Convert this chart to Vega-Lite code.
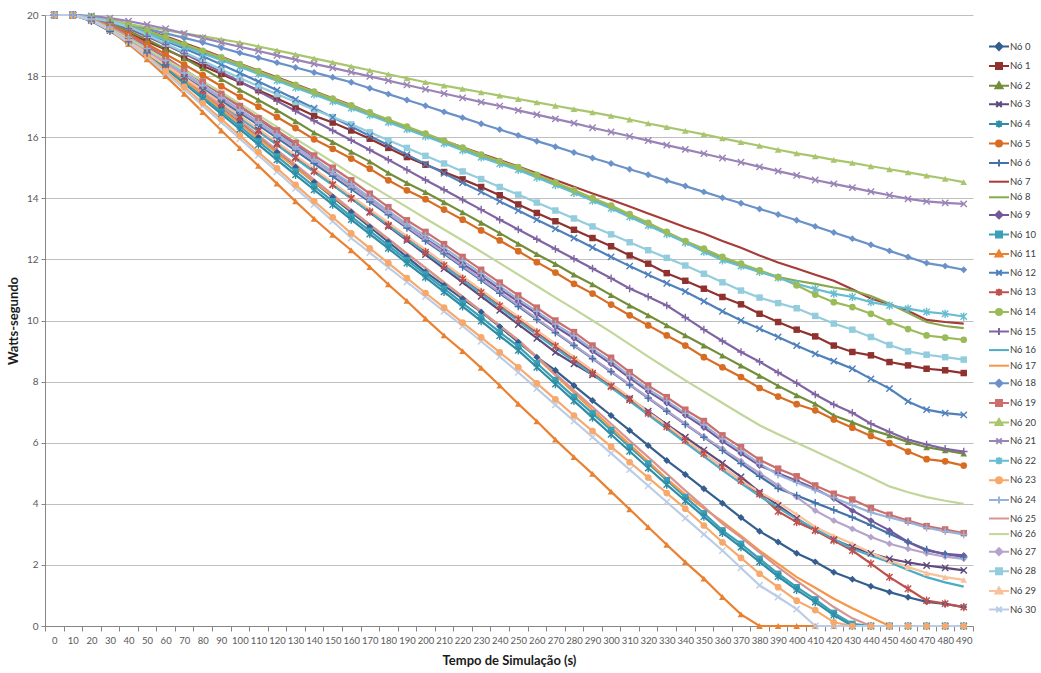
{
"$schema":"https://vega.github.io/schema/vega-lite/v6.json",
"width":928,"height":611,
"autosize":{"type":"none"},
"padding":{"left":45,"top":15,"right":68,"bottom":47},
"background":"white",
"config":{"view":{"stroke":null},"font":"Lato"},
"data":{"values":[
{"n":0,"t":0,"v":20},{"n":0,"t":10,"v":20},{"n":0,"t":20,"v":19.85},{"n":0,"t":30,"v":19.55},{"n":0,"t":40,"v":19.17},{"n":0,"t":50,"v":18.76},{"n":0,"t":60,"v":18.33},{"n":0,"t":70,"v":17.88},{"n":0,"t":80,"v":17.42},{"n":0,"t":90,"v":16.95},{"n":0,"t":100,"v":16.48},{"n":0,"t":110,"v":16.0},{"n":0,"t":120,"v":15.51},{"n":0,"t":130,"v":15.02},{"n":0,"t":140,"v":14.53},{"n":0,"t":150,"v":14.04},{"n":0,"t":160,"v":13.55},{"n":0,"t":170,"v":13.06},{"n":0,"t":180,"v":12.57},{"n":0,"t":190,"v":12.08},{"n":0,"t":200,"v":11.59},{"n":0,"t":210,"v":11.15},{"n":0,"t":220,"v":10.71},{"n":0,"t":230,"v":10.28},{"n":0,"t":240,"v":9.8},{"n":0,"t":250,"v":9.29},{"n":0,"t":260,"v":8.8},{"n":0,"t":270,"v":8.37},{"n":0,"t":280,"v":7.87},{"n":0,"t":290,"v":7.38},{"n":0,"t":300,"v":6.89},{"n":0,"t":310,"v":6.4},{"n":0,"t":320,"v":5.91},{"n":0,"t":330,"v":5.42},{"n":0,"t":340,"v":4.96},{"n":0,"t":350,"v":4.49},{"n":0,"t":360,"v":4.02},{"n":0,"t":370,"v":3.55},{"n":0,"t":380,"v":3.1},{"n":0,"t":390,"v":2.75},{"n":0,"t":400,"v":2.38},{"n":0,"t":410,"v":2.1},{"n":0,"t":420,"v":1.76},{"n":0,"t":430,"v":1.53},{"n":0,"t":440,"v":1.3},{"n":0,"t":450,"v":1.11},{"n":0,"t":460,"v":0.94},{"n":0,"t":470,"v":0.79},{"n":0,"t":480,"v":0.72},{"n":0,"t":490,"v":0.62},
{"n":1,"t":0,"v":20},{"n":1,"t":10,"v":20},{"n":1,"t":20,"v":19.87},{"n":1,"t":30,"v":19.65},{"n":1,"t":40,"v":19.4},{"n":1,"t":50,"v":19.13},{"n":1,"t":60,"v":18.87},{"n":1,"t":70,"v":18.6},{"n":1,"t":80,"v":18.34},{"n":1,"t":90,"v":18.07},{"n":1,"t":100,"v":17.8},{"n":1,"t":110,"v":17.54},{"n":1,"t":120,"v":17.27},{"n":1,"t":130,"v":16.99},{"n":1,"t":140,"v":16.7},{"n":1,"t":150,"v":16.48},{"n":1,"t":160,"v":16.22},{"n":1,"t":170,"v":15.95},{"n":1,"t":180,"v":15.65},{"n":1,"t":190,"v":15.35},{"n":1,"t":200,"v":15.1},{"n":1,"t":210,"v":14.86},{"n":1,"t":220,"v":14.62},{"n":1,"t":230,"v":14.37},{"n":1,"t":240,"v":14.1},{"n":1,"t":250,"v":13.8},{"n":1,"t":260,"v":13.52},{"n":1,"t":270,"v":13.25},{"n":1,"t":280,"v":12.97},{"n":1,"t":290,"v":12.7},{"n":1,"t":300,"v":12.43},{"n":1,"t":310,"v":12.13},{"n":1,"t":320,"v":11.86},{"n":1,"t":330,"v":11.55},{"n":1,"t":340,"v":11.3},{"n":1,"t":350,"v":11.04},{"n":1,"t":360,"v":10.77},{"n":1,"t":370,"v":10.53},{"n":1,"t":380,"v":10.22},{"n":1,"t":390,"v":9.95},{"n":1,"t":400,"v":9.7},{"n":1,"t":410,"v":9.48},{"n":1,"t":420,"v":9.18},{"n":1,"t":430,"v":8.97},{"n":1,"t":440,"v":8.86},{"n":1,"t":450,"v":8.64},{"n":1,"t":460,"v":8.53},{"n":1,"t":470,"v":8.42},{"n":1,"t":480,"v":8.37},{"n":1,"t":490,"v":8.28},
{"n":2,"t":0,"v":20},{"n":2,"t":10,"v":20},{"n":2,"t":20,"v":19.92},{"n":2,"t":30,"v":19.74},{"n":2,"t":40,"v":19.48},{"n":2,"t":50,"v":19.2},{"n":2,"t":60,"v":18.9},{"n":2,"t":70,"v":18.58},{"n":2,"t":80,"v":18.25},{"n":2,"t":90,"v":17.9},{"n":2,"t":100,"v":17.55},{"n":2,"t":110,"v":17.22},{"n":2,"t":120,"v":16.88},{"n":2,"t":130,"v":16.52},{"n":2,"t":140,"v":16.15},{"n":2,"t":150,"v":15.84},{"n":2,"t":160,"v":15.52},{"n":2,"t":170,"v":15.2},{"n":2,"t":180,"v":14.83},{"n":2,"t":190,"v":14.5},{"n":2,"t":200,"v":14.2},{"n":2,"t":210,"v":13.87},{"n":2,"t":220,"v":13.54},{"n":2,"t":230,"v":13.2},{"n":2,"t":240,"v":12.86},{"n":2,"t":250,"v":12.51},{"n":2,"t":260,"v":12.17},{"n":2,"t":270,"v":11.85},{"n":2,"t":280,"v":11.5},{"n":2,"t":290,"v":11.18},{"n":2,"t":300,"v":10.83},{"n":2,"t":310,"v":10.49},{"n":2,"t":320,"v":10.17},{"n":2,"t":330,"v":9.84},{"n":2,"t":340,"v":9.51},{"n":2,"t":350,"v":9.18},{"n":2,"t":360,"v":8.85},{"n":2,"t":370,"v":8.52},{"n":2,"t":380,"v":8.19},{"n":2,"t":390,"v":7.86},{"n":2,"t":400,"v":7.55},{"n":2,"t":410,"v":7.27},{"n":2,"t":420,"v":6.89},{"n":2,"t":430,"v":6.67},{"n":2,"t":440,"v":6.42},{"n":2,"t":450,"v":6.24},{"n":2,"t":460,"v":6.02},{"n":2,"t":470,"v":5.85},{"n":2,"t":480,"v":5.75},{"n":2,"t":490,"v":5.64},
{"n":3,"t":0,"v":20},{"n":3,"t":10,"v":20},{"n":3,"t":20,"v":19.82},{"n":3,"t":30,"v":19.5},{"n":3,"t":40,"v":19.15},{"n":3,"t":50,"v":18.78},{"n":3,"t":60,"v":18.38},{"n":3,"t":70,"v":17.97},{"n":3,"t":80,"v":17.55},{"n":3,"t":90,"v":17.12},{"n":3,"t":100,"v":16.68},{"n":3,"t":110,"v":16.24},{"n":3,"t":120,"v":15.8},{"n":3,"t":130,"v":15.35},{"n":3,"t":140,"v":14.9},{"n":3,"t":150,"v":14.45},{"n":3,"t":160,"v":14.0},{"n":3,"t":170,"v":13.54},{"n":3,"t":180,"v":13.08},{"n":3,"t":190,"v":12.62},{"n":3,"t":200,"v":12.16},{"n":3,"t":210,"v":11.7},{"n":3,"t":220,"v":11.25},{"n":3,"t":230,"v":10.79},{"n":3,"t":240,"v":10.33},{"n":3,"t":250,"v":9.87},{"n":3,"t":260,"v":9.42},{"n":3,"t":270,"v":8.96},{"n":3,"t":280,"v":8.58},{"n":3,"t":290,"v":8.22},{"n":3,"t":300,"v":7.85},{"n":3,"t":310,"v":7.45},{"n":3,"t":320,"v":7.03},{"n":3,"t":330,"v":6.6},{"n":3,"t":340,"v":6.18},{"n":3,"t":350,"v":5.76},{"n":3,"t":360,"v":5.33},{"n":3,"t":370,"v":4.88},{"n":3,"t":380,"v":4.38},{"n":3,"t":390,"v":3.95},{"n":3,"t":400,"v":3.52},{"n":3,"t":410,"v":3.13},{"n":3,"t":420,"v":2.83},{"n":3,"t":430,"v":2.58},{"n":3,"t":440,"v":2.38},{"n":3,"t":450,"v":2.2},{"n":3,"t":460,"v":2.08},{"n":3,"t":470,"v":1.98},{"n":3,"t":480,"v":1.9},{"n":3,"t":490,"v":1.82},
{"n":4,"t":0,"v":20},{"n":4,"t":10,"v":20},{"n":4,"t":20,"v":19.84},{"n":4,"t":30,"v":19.55},{"n":4,"t":40,"v":19.17},{"n":4,"t":50,"v":18.73},{"n":4,"t":60,"v":18.25},{"n":4,"t":70,"v":17.76},{"n":4,"t":80,"v":17.26},{"n":4,"t":90,"v":16.76},{"n":4,"t":100,"v":16.26},{"n":4,"t":110,"v":15.76},{"n":4,"t":120,"v":15.26},{"n":4,"t":130,"v":14.77},{"n":4,"t":140,"v":14.28},{"n":4,"t":150,"v":13.79},{"n":4,"t":160,"v":13.3},{"n":4,"t":170,"v":12.83},{"n":4,"t":180,"v":12.36},{"n":4,"t":190,"v":11.88},{"n":4,"t":200,"v":11.41},{"n":4,"t":210,"v":10.94},{"n":4,"t":220,"v":10.46},{"n":4,"t":230,"v":9.98},{"n":4,"t":240,"v":9.5},{"n":4,"t":250,"v":9.02},{"n":4,"t":260,"v":8.47},{"n":4,"t":270,"v":7.92},{"n":4,"t":280,"v":7.37},{"n":4,"t":290,"v":6.82},{"n":4,"t":300,"v":6.27},{"n":4,"t":310,"v":5.72},{"n":4,"t":320,"v":5.17},{"n":4,"t":330,"v":4.63},{"n":4,"t":340,"v":4.1},{"n":4,"t":350,"v":3.58},{"n":4,"t":360,"v":3.05},{"n":4,"t":370,"v":2.58},{"n":4,"t":380,"v":2.1},{"n":4,"t":390,"v":1.62},{"n":4,"t":400,"v":1.18},{"n":4,"t":410,"v":0.78},{"n":4,"t":420,"v":0.36},{"n":4,"t":430,"v":0},{"n":4,"t":440,"v":0},{"n":4,"t":450,"v":0},{"n":4,"t":460,"v":0},{"n":4,"t":470,"v":0},{"n":4,"t":480,"v":0},{"n":4,"t":490,"v":0},
{"n":5,"t":0,"v":20},{"n":5,"t":10,"v":20},{"n":5,"t":20,"v":19.9},{"n":5,"t":30,"v":19.68},{"n":5,"t":40,"v":19.38},{"n":5,"t":50,"v":19.05},{"n":5,"t":60,"v":18.72},{"n":5,"t":70,"v":18.38},{"n":5,"t":80,"v":18.03},{"n":5,"t":90,"v":17.67},{"n":5,"t":100,"v":17.32},{"n":5,"t":110,"v":17.0},{"n":5,"t":120,"v":16.66},{"n":5,"t":130,"v":16.3},{"n":5,"t":140,"v":15.93},{"n":5,"t":150,"v":15.62},{"n":5,"t":160,"v":15.3},{"n":5,"t":170,"v":14.97},{"n":5,"t":180,"v":14.59},{"n":5,"t":190,"v":14.26},{"n":5,"t":200,"v":13.97},{"n":5,"t":210,"v":13.63},{"n":5,"t":220,"v":13.3},{"n":5,"t":230,"v":12.95},{"n":5,"t":240,"v":12.62},{"n":5,"t":250,"v":12.27},{"n":5,"t":260,"v":11.91},{"n":5,"t":270,"v":11.57},{"n":5,"t":280,"v":11.2},{"n":5,"t":290,"v":10.88},{"n":5,"t":300,"v":10.52},{"n":5,"t":310,"v":10.17},{"n":5,"t":320,"v":9.84},{"n":5,"t":330,"v":9.51},{"n":5,"t":340,"v":9.18},{"n":5,"t":350,"v":8.8},{"n":5,"t":360,"v":8.47},{"n":5,"t":370,"v":8.15},{"n":5,"t":380,"v":7.79},{"n":5,"t":390,"v":7.51},{"n":5,"t":400,"v":7.26},{"n":5,"t":410,"v":7.06},{"n":5,"t":420,"v":6.76},{"n":5,"t":430,"v":6.49},{"n":5,"t":440,"v":6.22},{"n":5,"t":450,"v":5.99},{"n":5,"t":460,"v":5.71},{"n":5,"t":470,"v":5.46},{"n":5,"t":480,"v":5.39},{"n":5,"t":490,"v":5.25},
{"n":6,"t":0,"v":20},{"n":6,"t":10,"v":20},{"n":6,"t":20,"v":19.8},{"n":6,"t":30,"v":19.47},{"n":6,"t":40,"v":19.12},{"n":6,"t":50,"v":18.76},{"n":6,"t":60,"v":18.38},{"n":6,"t":70,"v":17.99},{"n":6,"t":80,"v":17.6},{"n":6,"t":90,"v":17.2},{"n":6,"t":100,"v":16.8},{"n":6,"t":110,"v":16.4},{"n":6,"t":120,"v":15.98},{"n":6,"t":130,"v":15.56},{"n":6,"t":140,"v":15.14},{"n":6,"t":150,"v":14.72},{"n":6,"t":160,"v":14.3},{"n":6,"t":170,"v":13.88},{"n":6,"t":180,"v":13.46},{"n":6,"t":190,"v":13.03},{"n":6,"t":200,"v":12.6},{"n":6,"t":210,"v":12.18},{"n":6,"t":220,"v":11.75},{"n":6,"t":230,"v":11.32},{"n":6,"t":240,"v":10.89},{"n":6,"t":250,"v":10.46},{"n":6,"t":260,"v":10.03},{"n":6,"t":270,"v":9.6},{"n":6,"t":280,"v":9.18},{"n":6,"t":290,"v":8.75},{"n":6,"t":300,"v":8.32},{"n":6,"t":310,"v":7.89},{"n":6,"t":320,"v":7.46},{"n":6,"t":330,"v":7.03},{"n":6,"t":340,"v":6.6},{"n":6,"t":350,"v":6.18},{"n":6,"t":360,"v":5.75},{"n":6,"t":370,"v":5.32},{"n":6,"t":380,"v":4.9},{"n":6,"t":390,"v":4.5},{"n":6,"t":400,"v":4.27},{"n":6,"t":410,"v":4.03},{"n":6,"t":420,"v":3.8},{"n":6,"t":430,"v":3.56},{"n":6,"t":440,"v":3.3},{"n":6,"t":450,"v":3.02},{"n":6,"t":460,"v":2.75},{"n":6,"t":470,"v":2.5},{"n":6,"t":480,"v":2.35},{"n":6,"t":490,"v":2.26},
{"n":7,"t":0,"v":20},{"n":7,"t":10,"v":20},{"n":7,"t":20,"v":19.93},{"n":7,"t":30,"v":19.82},{"n":7,"t":40,"v":19.68},{"n":7,"t":50,"v":19.5},{"n":7,"t":60,"v":19.3},{"n":7,"t":70,"v":19.08},{"n":7,"t":80,"v":18.86},{"n":7,"t":90,"v":18.63},{"n":7,"t":100,"v":18.4},{"n":7,"t":110,"v":18.18},{"n":7,"t":120,"v":17.96},{"n":7,"t":130,"v":17.73},{"n":7,"t":140,"v":17.5},{"n":7,"t":150,"v":17.27},{"n":7,"t":160,"v":17.05},{"n":7,"t":170,"v":16.8},{"n":7,"t":180,"v":16.55},{"n":7,"t":190,"v":16.3},{"n":7,"t":200,"v":16.09},{"n":7,"t":210,"v":15.88},{"n":7,"t":220,"v":15.67},{"n":7,"t":230,"v":15.46},{"n":7,"t":240,"v":15.25},{"n":7,"t":250,"v":15.04},{"n":7,"t":260,"v":14.82},{"n":7,"t":270,"v":14.6},{"n":7,"t":280,"v":14.38},{"n":7,"t":290,"v":14.16},{"n":7,"t":300,"v":13.95},{"n":7,"t":310,"v":13.73},{"n":7,"t":320,"v":13.5},{"n":7,"t":330,"v":13.28},{"n":7,"t":340,"v":13.05},{"n":7,"t":350,"v":12.85},{"n":7,"t":360,"v":12.6},{"n":7,"t":370,"v":12.38},{"n":7,"t":380,"v":12.13},{"n":7,"t":390,"v":11.9},{"n":7,"t":400,"v":11.7},{"n":7,"t":410,"v":11.5},{"n":7,"t":420,"v":11.3},{"n":7,"t":430,"v":11.02},{"n":7,"t":440,"v":10.72},{"n":7,"t":450,"v":10.53},{"n":7,"t":460,"v":10.32},{"n":7,"t":470,"v":10.02},{"n":7,"t":480,"v":9.95},{"n":7,"t":490,"v":9.9},
{"n":8,"t":0,"v":20},{"n":8,"t":10,"v":20},{"n":8,"t":20,"v":19.93},{"n":8,"t":30,"v":19.8},{"n":8,"t":40,"v":19.65},{"n":8,"t":50,"v":19.45},{"n":8,"t":60,"v":19.23},{"n":8,"t":70,"v":19.01},{"n":8,"t":80,"v":18.79},{"n":8,"t":90,"v":18.57},{"n":8,"t":100,"v":18.35},{"n":8,"t":110,"v":18.12},{"n":8,"t":120,"v":17.9},{"n":8,"t":130,"v":17.67},{"n":8,"t":140,"v":17.45},{"n":8,"t":150,"v":17.22},{"n":8,"t":160,"v":17.0},{"n":8,"t":170,"v":16.77},{"n":8,"t":180,"v":16.54},{"n":8,"t":190,"v":16.31},{"n":8,"t":200,"v":16.08},{"n":8,"t":210,"v":15.85},{"n":8,"t":220,"v":15.62},{"n":8,"t":230,"v":15.39},{"n":8,"t":240,"v":15.18},{"n":8,"t":250,"v":14.98},{"n":8,"t":260,"v":14.73},{"n":8,"t":270,"v":14.48},{"n":8,"t":280,"v":14.23},{"n":8,"t":290,"v":13.97},{"n":8,"t":300,"v":13.72},{"n":8,"t":310,"v":13.44},{"n":8,"t":320,"v":13.16},{"n":8,"t":330,"v":12.88},{"n":8,"t":340,"v":12.57},{"n":8,"t":350,"v":12.3},{"n":8,"t":360,"v":12.05},{"n":8,"t":370,"v":11.82},{"n":8,"t":380,"v":11.6},{"n":8,"t":390,"v":11.42},{"n":8,"t":400,"v":11.3},{"n":8,"t":410,"v":11.2},{"n":8,"t":420,"v":11.08},{"n":8,"t":430,"v":10.98},{"n":8,"t":440,"v":10.8},{"n":8,"t":450,"v":10.55},{"n":8,"t":460,"v":10.25},{"n":8,"t":470,"v":9.95},{"n":8,"t":480,"v":9.82},{"n":8,"t":490,"v":9.75},
{"n":9,"t":0,"v":20},{"n":9,"t":10,"v":20},{"n":9,"t":20,"v":19.88},{"n":9,"t":30,"v":19.64},{"n":9,"t":40,"v":19.33},{"n":9,"t":50,"v":18.98},{"n":9,"t":60,"v":18.6},{"n":9,"t":70,"v":18.2},{"n":9,"t":80,"v":17.8},{"n":9,"t":90,"v":17.4},{"n":9,"t":100,"v":17.0},{"n":9,"t":110,"v":16.6},{"n":9,"t":120,"v":16.18},{"n":9,"t":130,"v":15.76},{"n":9,"t":140,"v":15.3},{"n":9,"t":150,"v":14.85},{"n":9,"t":160,"v":14.4},{"n":9,"t":170,"v":13.96},{"n":9,"t":180,"v":13.52},{"n":9,"t":190,"v":13.08},{"n":9,"t":200,"v":12.68},{"n":9,"t":210,"v":12.28},{"n":9,"t":220,"v":11.86},{"n":9,"t":230,"v":11.45},{"n":9,"t":240,"v":11.03},{"n":9,"t":250,"v":10.62},{"n":9,"t":260,"v":10.22},{"n":9,"t":270,"v":9.8},{"n":9,"t":280,"v":9.42},{"n":9,"t":290,"v":9.0},{"n":9,"t":300,"v":8.58},{"n":9,"t":310,"v":8.12},{"n":9,"t":320,"v":7.68},{"n":9,"t":330,"v":7.3},{"n":9,"t":340,"v":6.9},{"n":9,"t":350,"v":6.5},{"n":9,"t":360,"v":6.05},{"n":9,"t":370,"v":5.65},{"n":9,"t":380,"v":5.25},{"n":9,"t":390,"v":5.0},{"n":9,"t":400,"v":4.75},{"n":9,"t":410,"v":4.49},{"n":9,"t":420,"v":4.17},{"n":9,"t":430,"v":3.78},{"n":9,"t":440,"v":3.45},{"n":9,"t":450,"v":3.13},{"n":9,"t":460,"v":2.75},{"n":9,"t":470,"v":2.47},{"n":9,"t":480,"v":2.36},{"n":9,"t":490,"v":2.31},
{"n":10,"t":0,"v":20},{"n":10,"t":10,"v":20},{"n":10,"t":20,"v":19.85},{"n":10,"t":30,"v":19.57},{"n":10,"t":40,"v":19.2},{"n":10,"t":50,"v":18.77},{"n":10,"t":60,"v":18.3},{"n":10,"t":70,"v":17.82},{"n":10,"t":80,"v":17.33},{"n":10,"t":90,"v":16.84},{"n":10,"t":100,"v":16.35},{"n":10,"t":110,"v":15.86},{"n":10,"t":120,"v":15.37},{"n":10,"t":130,"v":14.88},{"n":10,"t":140,"v":14.39},{"n":10,"t":150,"v":13.9},{"n":10,"t":160,"v":13.4},{"n":10,"t":170,"v":12.93},{"n":10,"t":180,"v":12.46},{"n":10,"t":190,"v":11.98},{"n":10,"t":200,"v":11.51},{"n":10,"t":210,"v":11.04},{"n":10,"t":220,"v":10.57},{"n":10,"t":230,"v":10.1},{"n":10,"t":240,"v":9.62},{"n":10,"t":250,"v":9.15},{"n":10,"t":260,"v":8.6},{"n":10,"t":270,"v":8.05},{"n":10,"t":280,"v":7.5},{"n":10,"t":290,"v":6.96},{"n":10,"t":300,"v":6.41},{"n":10,"t":310,"v":5.86},{"n":10,"t":320,"v":5.32},{"n":10,"t":330,"v":4.77},{"n":10,"t":340,"v":4.22},{"n":10,"t":350,"v":3.69},{"n":10,"t":360,"v":3.13},{"n":10,"t":370,"v":2.69},{"n":10,"t":380,"v":2.2},{"n":10,"t":390,"v":1.71},{"n":10,"t":400,"v":1.27},{"n":10,"t":410,"v":0.87},{"n":10,"t":420,"v":0.43},{"n":10,"t":430,"v":0.07},{"n":10,"t":440,"v":0},{"n":10,"t":450,"v":0},{"n":10,"t":460,"v":0},{"n":10,"t":470,"v":0},{"n":10,"t":480,"v":0},{"n":10,"t":490,"v":0},
{"n":11,"t":0,"v":20},{"n":11,"t":10,"v":20},{"n":11,"t":20,"v":19.85},{"n":11,"t":30,"v":19.5},{"n":11,"t":40,"v":19.05},{"n":11,"t":50,"v":18.55},{"n":11,"t":60,"v":18.0},{"n":11,"t":70,"v":17.42},{"n":11,"t":80,"v":16.82},{"n":11,"t":90,"v":16.22},{"n":11,"t":100,"v":15.64},{"n":11,"t":110,"v":15.06},{"n":11,"t":120,"v":14.48},{"n":11,"t":130,"v":13.9},{"n":11,"t":140,"v":13.33},{"n":11,"t":150,"v":12.8},{"n":11,"t":160,"v":12.3},{"n":11,"t":170,"v":11.75},{"n":11,"t":180,"v":11.18},{"n":11,"t":190,"v":10.64},{"n":11,"t":200,"v":10.06},{"n":11,"t":210,"v":9.51},{"n":11,"t":220,"v":9.0},{"n":11,"t":230,"v":8.45},{"n":11,"t":240,"v":7.87},{"n":11,"t":250,"v":7.27},{"n":11,"t":260,"v":6.7},{"n":11,"t":270,"v":6.1},{"n":11,"t":280,"v":5.53},{"n":11,"t":290,"v":4.98},{"n":11,"t":300,"v":4.4},{"n":11,"t":310,"v":3.82},{"n":11,"t":320,"v":3.24},{"n":11,"t":330,"v":2.66},{"n":11,"t":340,"v":2.09},{"n":11,"t":350,"v":1.55},{"n":11,"t":360,"v":0.95},{"n":11,"t":370,"v":0.38},{"n":11,"t":380,"v":0},{"n":11,"t":390,"v":0},{"n":11,"t":400,"v":0},{"n":11,"t":410,"v":0},{"n":11,"t":420,"v":0},{"n":11,"t":430,"v":0},{"n":11,"t":440,"v":0},{"n":11,"t":450,"v":0},{"n":11,"t":460,"v":0},{"n":11,"t":470,"v":0},{"n":11,"t":480,"v":0},{"n":11,"t":490,"v":0},
{"n":12,"t":0,"v":20},{"n":12,"t":10,"v":20},{"n":12,"t":20,"v":19.92},{"n":12,"t":30,"v":19.8},{"n":12,"t":40,"v":19.62},{"n":12,"t":50,"v":19.4},{"n":12,"t":60,"v":19.15},{"n":12,"t":70,"v":18.9},{"n":12,"t":80,"v":18.65},{"n":12,"t":90,"v":18.38},{"n":12,"t":100,"v":18.1},{"n":12,"t":110,"v":17.82},{"n":12,"t":120,"v":17.54},{"n":12,"t":130,"v":17.24},{"n":12,"t":140,"v":16.95},{"n":12,"t":150,"v":16.65},{"n":12,"t":160,"v":16.35},{"n":12,"t":170,"v":16.04},{"n":12,"t":180,"v":15.74},{"n":12,"t":190,"v":15.43},{"n":12,"t":200,"v":15.12},{"n":12,"t":210,"v":14.82},{"n":12,"t":220,"v":14.51},{"n":12,"t":230,"v":14.21},{"n":12,"t":240,"v":13.9},{"n":12,"t":250,"v":13.6},{"n":12,"t":260,"v":13.3},{"n":12,"t":270,"v":13.0},{"n":12,"t":280,"v":12.7},{"n":12,"t":290,"v":12.39},{"n":12,"t":300,"v":12.08},{"n":12,"t":310,"v":11.78},{"n":12,"t":320,"v":11.5},{"n":12,"t":330,"v":11.22},{"n":12,"t":340,"v":10.95},{"n":12,"t":350,"v":10.63},{"n":12,"t":360,"v":10.3},{"n":12,"t":370,"v":10.0},{"n":12,"t":380,"v":9.73},{"n":12,"t":390,"v":9.46},{"n":12,"t":400,"v":9.18},{"n":12,"t":410,"v":8.91},{"n":12,"t":420,"v":8.67},{"n":12,"t":430,"v":8.42},{"n":12,"t":440,"v":8.09},{"n":12,"t":450,"v":7.77},{"n":12,"t":460,"v":7.35},{"n":12,"t":470,"v":7.08},{"n":12,"t":480,"v":6.97},{"n":12,"t":490,"v":6.91},
{"n":13,"t":0,"v":20},{"n":13,"t":10,"v":20},{"n":13,"t":20,"v":19.85},{"n":13,"t":30,"v":19.55},{"n":13,"t":40,"v":19.2},{"n":13,"t":50,"v":18.8},{"n":13,"t":60,"v":18.38},{"n":13,"t":70,"v":17.95},{"n":13,"t":80,"v":17.52},{"n":13,"t":90,"v":17.08},{"n":13,"t":100,"v":16.64},{"n":13,"t":110,"v":16.2},{"n":13,"t":120,"v":15.76},{"n":13,"t":130,"v":15.32},{"n":13,"t":140,"v":14.88},{"n":13,"t":150,"v":14.44},{"n":13,"t":160,"v":14.0},{"n":13,"t":170,"v":13.56},{"n":13,"t":180,"v":13.12},{"n":13,"t":190,"v":12.68},{"n":13,"t":200,"v":12.24},{"n":13,"t":210,"v":11.8},{"n":13,"t":220,"v":11.36},{"n":13,"t":230,"v":10.92},{"n":13,"t":240,"v":10.48},{"n":13,"t":250,"v":10.04},{"n":13,"t":260,"v":9.6},{"n":13,"t":270,"v":9.16},{"n":13,"t":280,"v":8.72},{"n":13,"t":290,"v":8.28},{"n":13,"t":300,"v":7.84},{"n":13,"t":310,"v":7.4},{"n":13,"t":320,"v":6.96},{"n":13,"t":330,"v":6.52},{"n":13,"t":340,"v":6.08},{"n":13,"t":350,"v":5.64},{"n":13,"t":360,"v":5.2},{"n":13,"t":370,"v":4.76},{"n":13,"t":380,"v":4.32},{"n":13,"t":390,"v":3.75},{"n":13,"t":400,"v":3.4},{"n":13,"t":410,"v":3.13},{"n":13,"t":420,"v":2.8},{"n":13,"t":430,"v":2.47},{"n":13,"t":440,"v":2.04},{"n":13,"t":450,"v":1.6},{"n":13,"t":460,"v":1.22},{"n":13,"t":470,"v":0.83},{"n":13,"t":480,"v":0.73},{"n":13,"t":490,"v":0.62},
{"n":14,"t":0,"v":20},{"n":14,"t":10,"v":20},{"n":14,"t":20,"v":19.94},{"n":14,"t":30,"v":19.82},{"n":14,"t":40,"v":19.68},{"n":14,"t":50,"v":19.49},{"n":14,"t":60,"v":19.27},{"n":14,"t":70,"v":19.05},{"n":14,"t":80,"v":18.83},{"n":14,"t":90,"v":18.61},{"n":14,"t":100,"v":18.39},{"n":14,"t":110,"v":18.16},{"n":14,"t":120,"v":17.94},{"n":14,"t":130,"v":17.71},{"n":14,"t":140,"v":17.49},{"n":14,"t":150,"v":17.26},{"n":14,"t":160,"v":17.04},{"n":14,"t":170,"v":16.81},{"n":14,"t":180,"v":16.58},{"n":14,"t":190,"v":16.35},{"n":14,"t":200,"v":16.12},{"n":14,"t":210,"v":15.89},{"n":14,"t":220,"v":15.66},{"n":14,"t":230,"v":15.43},{"n":14,"t":240,"v":15.22},{"n":14,"t":250,"v":15.02},{"n":14,"t":260,"v":14.77},{"n":14,"t":270,"v":14.52},{"n":14,"t":280,"v":14.27},{"n":14,"t":290,"v":14.01},{"n":14,"t":300,"v":13.76},{"n":14,"t":310,"v":13.48},{"n":14,"t":320,"v":13.2},{"n":14,"t":330,"v":12.9},{"n":14,"t":340,"v":12.6},{"n":14,"t":350,"v":12.35},{"n":14,"t":360,"v":12.08},{"n":14,"t":370,"v":11.86},{"n":14,"t":380,"v":11.64},{"n":14,"t":390,"v":11.42},{"n":14,"t":400,"v":11.15},{"n":14,"t":410,"v":10.85},{"n":14,"t":420,"v":10.6},{"n":14,"t":430,"v":10.44},{"n":14,"t":440,"v":10.22},{"n":14,"t":450,"v":9.95},{"n":14,"t":460,"v":9.72},{"n":14,"t":470,"v":9.51},{"n":14,"t":480,"v":9.44},{"n":14,"t":490,"v":9.37},
{"n":15,"t":0,"v":20},{"n":15,"t":10,"v":20},{"n":15,"t":20,"v":19.92},{"n":15,"t":30,"v":19.76},{"n":15,"t":40,"v":19.55},{"n":15,"t":50,"v":19.3},{"n":15,"t":60,"v":19.03},{"n":15,"t":70,"v":18.74},{"n":15,"t":80,"v":18.44},{"n":15,"t":90,"v":18.13},{"n":15,"t":100,"v":17.82},{"n":15,"t":110,"v":17.5},{"n":15,"t":120,"v":17.18},{"n":15,"t":130,"v":16.86},{"n":15,"t":140,"v":16.54},{"n":15,"t":150,"v":16.22},{"n":15,"t":160,"v":15.9},{"n":15,"t":170,"v":15.58},{"n":15,"t":180,"v":15.26},{"n":15,"t":190,"v":14.93},{"n":15,"t":200,"v":14.6},{"n":15,"t":210,"v":14.28},{"n":15,"t":220,"v":13.95},{"n":15,"t":230,"v":13.63},{"n":15,"t":240,"v":13.3},{"n":15,"t":250,"v":12.98},{"n":15,"t":260,"v":12.66},{"n":15,"t":270,"v":12.34},{"n":15,"t":280,"v":12.02},{"n":15,"t":290,"v":11.7},{"n":15,"t":300,"v":11.38},{"n":15,"t":310,"v":11.05},{"n":15,"t":320,"v":10.78},{"n":15,"t":330,"v":10.49},{"n":15,"t":340,"v":10.1},{"n":15,"t":350,"v":9.7},{"n":15,"t":360,"v":9.33},{"n":15,"t":370,"v":8.97},{"n":15,"t":380,"v":8.65},{"n":15,"t":390,"v":8.3},{"n":15,"t":400,"v":7.95},{"n":15,"t":410,"v":7.58},{"n":15,"t":420,"v":7.25},{"n":15,"t":430,"v":6.98},{"n":15,"t":440,"v":6.62},{"n":15,"t":450,"v":6.35},{"n":15,"t":460,"v":6.1},{"n":15,"t":470,"v":5.94},{"n":15,"t":480,"v":5.8},{"n":15,"t":490,"v":5.71},
{"n":16,"t":0,"v":20},{"n":16,"t":10,"v":20},{"n":16,"t":20,"v":19.84},{"n":16,"t":30,"v":19.52},{"n":16,"t":40,"v":19.15},{"n":16,"t":50,"v":18.76},{"n":16,"t":60,"v":18.35},{"n":16,"t":70,"v":17.93},{"n":16,"t":80,"v":17.5},{"n":16,"t":90,"v":17.07},{"n":16,"t":100,"v":16.63},{"n":16,"t":110,"v":16.19},{"n":16,"t":120,"v":15.75},{"n":16,"t":130,"v":15.3},{"n":16,"t":140,"v":14.86},{"n":16,"t":150,"v":14.43},{"n":16,"t":160,"v":14.0},{"n":16,"t":170,"v":13.56},{"n":16,"t":180,"v":13.11},{"n":16,"t":190,"v":12.66},{"n":16,"t":200,"v":12.22},{"n":16,"t":210,"v":11.78},{"n":16,"t":220,"v":11.33},{"n":16,"t":230,"v":10.88},{"n":16,"t":240,"v":10.43},{"n":16,"t":250,"v":9.98},{"n":16,"t":260,"v":9.54},{"n":16,"t":270,"v":9.1},{"n":16,"t":280,"v":8.66},{"n":16,"t":290,"v":8.23},{"n":16,"t":300,"v":7.8},{"n":16,"t":310,"v":7.36},{"n":16,"t":320,"v":6.91},{"n":16,"t":330,"v":6.46},{"n":16,"t":340,"v":6.0},{"n":16,"t":350,"v":5.55},{"n":16,"t":360,"v":5.1},{"n":16,"t":370,"v":4.67},{"n":16,"t":380,"v":4.25},{"n":16,"t":390,"v":3.87},{"n":16,"t":400,"v":3.5},{"n":16,"t":410,"v":3.18},{"n":16,"t":420,"v":2.85},{"n":16,"t":430,"v":2.53},{"n":16,"t":440,"v":2.3},{"n":16,"t":450,"v":2.09},{"n":16,"t":460,"v":1.83},{"n":16,"t":470,"v":1.6},{"n":16,"t":480,"v":1.43},{"n":16,"t":490,"v":1.29},
{"n":17,"t":0,"v":20},{"n":17,"t":10,"v":20},{"n":17,"t":20,"v":19.85},{"n":17,"t":30,"v":19.58},{"n":17,"t":40,"v":19.22},{"n":17,"t":50,"v":18.8},{"n":17,"t":60,"v":18.35},{"n":17,"t":70,"v":17.88},{"n":17,"t":80,"v":17.4},{"n":17,"t":90,"v":16.92},{"n":17,"t":100,"v":16.44},{"n":17,"t":110,"v":15.96},{"n":17,"t":120,"v":15.48},{"n":17,"t":130,"v":15.0},{"n":17,"t":140,"v":14.54},{"n":17,"t":150,"v":14.07},{"n":17,"t":160,"v":13.6},{"n":17,"t":170,"v":13.13},{"n":17,"t":180,"v":12.66},{"n":17,"t":190,"v":12.19},{"n":17,"t":200,"v":11.72},{"n":17,"t":210,"v":11.25},{"n":17,"t":220,"v":10.77},{"n":17,"t":230,"v":10.3},{"n":17,"t":240,"v":9.83},{"n":17,"t":250,"v":9.35},{"n":17,"t":260,"v":8.78},{"n":17,"t":270,"v":8.21},{"n":17,"t":280,"v":7.64},{"n":17,"t":290,"v":7.07},{"n":17,"t":300,"v":6.5},{"n":17,"t":310,"v":5.94},{"n":17,"t":320,"v":5.38},{"n":17,"t":330,"v":4.82},{"n":17,"t":340,"v":4.3},{"n":17,"t":350,"v":3.85},{"n":17,"t":360,"v":3.42},{"n":17,"t":370,"v":2.95},{"n":17,"t":380,"v":2.47},{"n":17,"t":390,"v":2.03},{"n":17,"t":400,"v":1.6},{"n":17,"t":410,"v":1.25},{"n":17,"t":420,"v":0.89},{"n":17,"t":430,"v":0.58},{"n":17,"t":440,"v":0.29},{"n":17,"t":450,"v":0},{"n":17,"t":460,"v":0},{"n":17,"t":470,"v":0},{"n":17,"t":480,"v":0},{"n":17,"t":490,"v":0},
{"n":18,"t":0,"v":20},{"n":18,"t":10,"v":20},{"n":18,"t":20,"v":19.95},{"n":18,"t":30,"v":19.85},{"n":18,"t":40,"v":19.7},{"n":18,"t":50,"v":19.55},{"n":18,"t":60,"v":19.4},{"n":18,"t":70,"v":19.25},{"n":18,"t":80,"v":19.1},{"n":18,"t":90,"v":18.93},{"n":18,"t":100,"v":18.76},{"n":18,"t":110,"v":18.6},{"n":18,"t":120,"v":18.44},{"n":18,"t":130,"v":18.28},{"n":18,"t":140,"v":18.12},{"n":18,"t":150,"v":17.96},{"n":18,"t":160,"v":17.8},{"n":18,"t":170,"v":17.6},{"n":18,"t":180,"v":17.41},{"n":18,"t":190,"v":17.22},{"n":18,"t":200,"v":17.03},{"n":18,"t":210,"v":16.83},{"n":18,"t":220,"v":16.64},{"n":18,"t":230,"v":16.44},{"n":18,"t":240,"v":16.25},{"n":18,"t":250,"v":16.06},{"n":18,"t":260,"v":15.87},{"n":18,"t":270,"v":15.69},{"n":18,"t":280,"v":15.5},{"n":18,"t":290,"v":15.32},{"n":18,"t":300,"v":15.14},{"n":18,"t":310,"v":14.95},{"n":18,"t":320,"v":14.77},{"n":18,"t":330,"v":14.58},{"n":18,"t":340,"v":14.4},{"n":18,"t":350,"v":14.21},{"n":18,"t":360,"v":14.02},{"n":18,"t":370,"v":13.84},{"n":18,"t":380,"v":13.65},{"n":18,"t":390,"v":13.47},{"n":18,"t":400,"v":13.28},{"n":18,"t":410,"v":13.08},{"n":18,"t":420,"v":12.88},{"n":18,"t":430,"v":12.68},{"n":18,"t":440,"v":12.48},{"n":18,"t":450,"v":12.28},{"n":18,"t":460,"v":12.08},{"n":18,"t":470,"v":11.88},{"n":18,"t":480,"v":11.78},{"n":18,"t":490,"v":11.66},
{"n":19,"t":0,"v":20},{"n":19,"t":10,"v":20},{"n":19,"t":20,"v":19.88},{"n":19,"t":30,"v":19.65},{"n":19,"t":40,"v":19.35},{"n":19,"t":50,"v":19.0},{"n":19,"t":60,"v":18.62},{"n":19,"t":70,"v":18.22},{"n":19,"t":80,"v":17.82},{"n":19,"t":90,"v":17.42},{"n":19,"t":100,"v":17.02},{"n":19,"t":110,"v":16.62},{"n":19,"t":120,"v":16.22},{"n":19,"t":130,"v":15.81},{"n":19,"t":140,"v":15.4},{"n":19,"t":150,"v":15.0},{"n":19,"t":160,"v":14.59},{"n":19,"t":170,"v":14.15},{"n":19,"t":180,"v":13.71},{"n":19,"t":190,"v":13.28},{"n":19,"t":200,"v":12.9},{"n":19,"t":210,"v":12.5},{"n":19,"t":220,"v":12.08},{"n":19,"t":230,"v":11.66},{"n":19,"t":240,"v":11.24},{"n":19,"t":250,"v":10.82},{"n":19,"t":260,"v":10.42},{"n":19,"t":270,"v":10.0},{"n":19,"t":280,"v":9.62},{"n":19,"t":290,"v":9.18},{"n":19,"t":300,"v":8.78},{"n":19,"t":310,"v":8.31},{"n":19,"t":320,"v":7.87},{"n":19,"t":330,"v":7.49},{"n":19,"t":340,"v":7.08},{"n":19,"t":350,"v":6.71},{"n":19,"t":360,"v":6.24},{"n":19,"t":370,"v":5.85},{"n":19,"t":380,"v":5.44},{"n":19,"t":390,"v":5.15},{"n":19,"t":400,"v":4.9},{"n":19,"t":410,"v":4.6},{"n":19,"t":420,"v":4.33},{"n":19,"t":430,"v":4.14},{"n":19,"t":440,"v":3.86},{"n":19,"t":450,"v":3.64},{"n":19,"t":460,"v":3.45},{"n":19,"t":470,"v":3.27},{"n":19,"t":480,"v":3.16},{"n":19,"t":490,"v":3.04},
{"n":20,"t":0,"v":20},{"n":20,"t":10,"v":20},{"n":20,"t":20,"v":19.95},{"n":20,"t":30,"v":19.85},{"n":20,"t":40,"v":19.7},{"n":20,"t":50,"v":19.6},{"n":20,"t":60,"v":19.5},{"n":20,"t":70,"v":19.4},{"n":20,"t":80,"v":19.3},{"n":20,"t":90,"v":19.2},{"n":20,"t":100,"v":19.1},{"n":20,"t":110,"v":18.97},{"n":20,"t":120,"v":18.84},{"n":20,"t":130,"v":18.71},{"n":20,"t":140,"v":18.58},{"n":20,"t":150,"v":18.45},{"n":20,"t":160,"v":18.32},{"n":20,"t":170,"v":18.19},{"n":20,"t":180,"v":18.06},{"n":20,"t":190,"v":17.93},{"n":20,"t":200,"v":17.8},{"n":20,"t":210,"v":17.69},{"n":20,"t":220,"v":17.58},{"n":20,"t":230,"v":17.47},{"n":20,"t":240,"v":17.36},{"n":20,"t":250,"v":17.25},{"n":20,"t":260,"v":17.14},{"n":20,"t":270,"v":17.03},{"n":20,"t":280,"v":16.92},{"n":20,"t":290,"v":16.81},{"n":20,"t":300,"v":16.7},{"n":20,"t":310,"v":16.58},{"n":20,"t":320,"v":16.45},{"n":20,"t":330,"v":16.33},{"n":20,"t":340,"v":16.21},{"n":20,"t":350,"v":16.09},{"n":20,"t":360,"v":15.96},{"n":20,"t":370,"v":15.84},{"n":20,"t":380,"v":15.72},{"n":20,"t":390,"v":15.59},{"n":20,"t":400,"v":15.47},{"n":20,"t":410,"v":15.37},{"n":20,"t":420,"v":15.26},{"n":20,"t":430,"v":15.16},{"n":20,"t":440,"v":15.05},{"n":20,"t":450,"v":14.95},{"n":20,"t":460,"v":14.85},{"n":20,"t":470,"v":14.74},{"n":20,"t":480,"v":14.64},{"n":20,"t":490,"v":14.53},
{"n":21,"t":0,"v":20},{"n":21,"t":10,"v":20},{"n":21,"t":20,"v":19.97},{"n":21,"t":30,"v":19.9},{"n":21,"t":40,"v":19.8},{"n":21,"t":50,"v":19.68},{"n":21,"t":60,"v":19.55},{"n":21,"t":70,"v":19.4},{"n":21,"t":80,"v":19.25},{"n":21,"t":90,"v":19.1},{"n":21,"t":100,"v":18.96},{"n":21,"t":110,"v":18.82},{"n":21,"t":120,"v":18.68},{"n":21,"t":130,"v":18.54},{"n":21,"t":140,"v":18.4},{"n":21,"t":150,"v":18.27},{"n":21,"t":160,"v":18.13},{"n":21,"t":170,"v":17.99},{"n":21,"t":180,"v":17.85},{"n":21,"t":190,"v":17.71},{"n":21,"t":200,"v":17.57},{"n":21,"t":210,"v":17.43},{"n":21,"t":220,"v":17.29},{"n":21,"t":230,"v":17.15},{"n":21,"t":240,"v":17.02},{"n":21,"t":250,"v":16.88},{"n":21,"t":260,"v":16.74},{"n":21,"t":270,"v":16.6},{"n":21,"t":280,"v":16.46},{"n":21,"t":290,"v":16.31},{"n":21,"t":300,"v":16.17},{"n":21,"t":310,"v":16.03},{"n":21,"t":320,"v":15.89},{"n":21,"t":330,"v":15.74},{"n":21,"t":340,"v":15.6},{"n":21,"t":350,"v":15.46},{"n":21,"t":360,"v":15.32},{"n":21,"t":370,"v":15.18},{"n":21,"t":380,"v":15.03},{"n":21,"t":390,"v":14.89},{"n":21,"t":400,"v":14.75},{"n":21,"t":410,"v":14.6},{"n":21,"t":420,"v":14.47},{"n":21,"t":430,"v":14.35},{"n":21,"t":440,"v":14.22},{"n":21,"t":450,"v":14.1},{"n":21,"t":460,"v":13.98},{"n":21,"t":470,"v":13.9},{"n":21,"t":480,"v":13.85},{"n":21,"t":490,"v":13.82},
{"n":22,"t":0,"v":20},{"n":22,"t":10,"v":20},{"n":22,"t":20,"v":19.92},{"n":22,"t":30,"v":19.77},{"n":22,"t":40,"v":19.6},{"n":22,"t":50,"v":19.4},{"n":22,"t":60,"v":19.18},{"n":22,"t":70,"v":18.96},{"n":22,"t":80,"v":18.74},{"n":22,"t":90,"v":18.52},{"n":22,"t":100,"v":18.3},{"n":22,"t":110,"v":18.07},{"n":22,"t":120,"v":17.85},{"n":22,"t":130,"v":17.62},{"n":22,"t":140,"v":17.4},{"n":22,"t":150,"v":17.17},{"n":22,"t":160,"v":16.95},{"n":22,"t":170,"v":16.72},{"n":22,"t":180,"v":16.49},{"n":22,"t":190,"v":16.26},{"n":22,"t":200,"v":16.03},{"n":22,"t":210,"v":15.8},{"n":22,"t":220,"v":15.57},{"n":22,"t":230,"v":15.34},{"n":22,"t":240,"v":15.13},{"n":22,"t":250,"v":14.93},{"n":22,"t":260,"v":14.68},{"n":22,"t":270,"v":14.43},{"n":22,"t":280,"v":14.18},{"n":22,"t":290,"v":13.92},{"n":22,"t":300,"v":13.67},{"n":22,"t":310,"v":13.39},{"n":22,"t":320,"v":13.11},{"n":22,"t":330,"v":12.83},{"n":22,"t":340,"v":12.55},{"n":22,"t":350,"v":12.25},{"n":22,"t":360,"v":11.97},{"n":22,"t":370,"v":11.78},{"n":22,"t":380,"v":11.59},{"n":22,"t":390,"v":11.4},{"n":22,"t":400,"v":11.2},{"n":22,"t":410,"v":11.03},{"n":22,"t":420,"v":10.88},{"n":22,"t":430,"v":10.77},{"n":22,"t":440,"v":10.6},{"n":22,"t":450,"v":10.49},{"n":22,"t":460,"v":10.39},{"n":22,"t":470,"v":10.28},{"n":22,"t":480,"v":10.22},{"n":22,"t":490,"v":10.13},
{"n":23,"t":0,"v":20},{"n":23,"t":10,"v":20},{"n":23,"t":20,"v":19.84},{"n":23,"t":30,"v":19.53},{"n":23,"t":40,"v":19.13},{"n":23,"t":50,"v":18.67},{"n":23,"t":60,"v":18.17},{"n":23,"t":70,"v":17.65},{"n":23,"t":80,"v":17.12},{"n":23,"t":90,"v":16.59},{"n":23,"t":100,"v":16.05},{"n":23,"t":110,"v":15.51},{"n":23,"t":120,"v":14.98},{"n":23,"t":130,"v":14.44},{"n":23,"t":140,"v":13.91},{"n":23,"t":150,"v":13.38},{"n":23,"t":160,"v":12.85},{"n":23,"t":170,"v":12.36},{"n":23,"t":180,"v":11.88},{"n":23,"t":190,"v":11.39},{"n":23,"t":200,"v":10.9},{"n":23,"t":210,"v":10.42},{"n":23,"t":220,"v":9.93},{"n":23,"t":230,"v":9.45},{"n":23,"t":240,"v":8.96},{"n":23,"t":250,"v":8.47},{"n":23,"t":260,"v":7.94},{"n":23,"t":270,"v":7.42},{"n":23,"t":280,"v":6.89},{"n":23,"t":290,"v":6.38},{"n":23,"t":300,"v":5.87},{"n":23,"t":310,"v":5.36},{"n":23,"t":320,"v":4.86},{"n":23,"t":330,"v":4.35},{"n":23,"t":340,"v":3.84},{"n":23,"t":350,"v":3.29},{"n":23,"t":360,"v":2.74},{"n":23,"t":370,"v":2.23},{"n":23,"t":380,"v":1.71},{"n":23,"t":390,"v":1.27},{"n":23,"t":400,"v":0.83},{"n":23,"t":410,"v":0.52},{"n":23,"t":420,"v":0.12},{"n":23,"t":430,"v":0},{"n":23,"t":440,"v":0},{"n":23,"t":450,"v":0},{"n":23,"t":460,"v":0},{"n":23,"t":470,"v":0},{"n":23,"t":480,"v":0},{"n":23,"t":490,"v":0},
{"n":24,"t":0,"v":20},{"n":24,"t":10,"v":20},{"n":24,"t":20,"v":19.86},{"n":24,"t":30,"v":19.6},{"n":24,"t":40,"v":19.27},{"n":24,"t":50,"v":18.9},{"n":24,"t":60,"v":18.51},{"n":24,"t":70,"v":18.1},{"n":24,"t":80,"v":17.7},{"n":24,"t":90,"v":17.3},{"n":24,"t":100,"v":16.9},{"n":24,"t":110,"v":16.5},{"n":24,"t":120,"v":16.1},{"n":24,"t":130,"v":15.69},{"n":24,"t":140,"v":15.28},{"n":24,"t":150,"v":14.88},{"n":24,"t":160,"v":14.47},{"n":24,"t":170,"v":14.03},{"n":24,"t":180,"v":13.59},{"n":24,"t":190,"v":13.16},{"n":24,"t":200,"v":12.78},{"n":24,"t":210,"v":12.38},{"n":24,"t":220,"v":11.96},{"n":24,"t":230,"v":11.54},{"n":24,"t":240,"v":11.12},{"n":24,"t":250,"v":10.7},{"n":24,"t":260,"v":10.3},{"n":24,"t":270,"v":9.88},{"n":24,"t":280,"v":9.5},{"n":24,"t":290,"v":9.06},{"n":24,"t":300,"v":8.66},{"n":24,"t":310,"v":8.19},{"n":24,"t":320,"v":7.75},{"n":24,"t":330,"v":7.37},{"n":24,"t":340,"v":6.96},{"n":24,"t":350,"v":6.59},{"n":24,"t":360,"v":6.12},{"n":24,"t":370,"v":5.73},{"n":24,"t":380,"v":5.32},{"n":24,"t":390,"v":4.95},{"n":24,"t":400,"v":4.7},{"n":24,"t":410,"v":4.45},{"n":24,"t":420,"v":4.2},{"n":24,"t":430,"v":3.95},{"n":24,"t":440,"v":3.72},{"n":24,"t":450,"v":3.55},{"n":24,"t":460,"v":3.4},{"n":24,"t":470,"v":3.22},{"n":24,"t":480,"v":3.1},{"n":24,"t":490,"v":3.0},
{"n":25,"t":0,"v":20},{"n":25,"t":10,"v":20},{"n":25,"t":20,"v":19.86},{"n":25,"t":30,"v":19.6},{"n":25,"t":40,"v":19.26},{"n":25,"t":50,"v":18.86},{"n":25,"t":60,"v":18.42},{"n":25,"t":70,"v":17.96},{"n":25,"t":80,"v":17.49},{"n":25,"t":90,"v":17.02},{"n":25,"t":100,"v":16.54},{"n":25,"t":110,"v":16.06},{"n":25,"t":120,"v":15.58},{"n":25,"t":130,"v":15.1},{"n":25,"t":140,"v":14.61},{"n":25,"t":150,"v":14.12},{"n":25,"t":160,"v":13.62},{"n":25,"t":170,"v":13.14},{"n":25,"t":180,"v":12.67},{"n":25,"t":190,"v":12.19},{"n":25,"t":200,"v":11.72},{"n":25,"t":210,"v":11.25},{"n":25,"t":220,"v":10.78},{"n":25,"t":230,"v":10.31},{"n":25,"t":240,"v":9.83},{"n":25,"t":250,"v":9.36},{"n":25,"t":260,"v":8.81},{"n":25,"t":270,"v":8.26},{"n":25,"t":280,"v":7.71},{"n":25,"t":290,"v":7.17},{"n":25,"t":300,"v":6.62},{"n":25,"t":310,"v":6.07},{"n":25,"t":320,"v":5.53},{"n":25,"t":330,"v":4.98},{"n":25,"t":340,"v":4.43},{"n":25,"t":350,"v":3.9},{"n":25,"t":360,"v":3.35},{"n":25,"t":370,"v":2.9},{"n":25,"t":380,"v":2.41},{"n":25,"t":390,"v":1.93},{"n":25,"t":400,"v":1.48},{"n":25,"t":410,"v":1.05},{"n":25,"t":420,"v":0.62},{"n":25,"t":430,"v":0.25},{"n":25,"t":440,"v":0},{"n":25,"t":450,"v":0},{"n":25,"t":460,"v":0},{"n":25,"t":470,"v":0},{"n":25,"t":480,"v":0},{"n":25,"t":490,"v":0},
{"n":26,"t":0,"v":20},{"n":26,"t":10,"v":20},{"n":26,"t":20,"v":19.84},{"n":26,"t":30,"v":19.55},{"n":26,"t":40,"v":19.22},{"n":26,"t":50,"v":18.88},{"n":26,"t":60,"v":18.54},{"n":26,"t":70,"v":18.19},{"n":26,"t":80,"v":17.83},{"n":26,"t":90,"v":17.47},{"n":26,"t":100,"v":17.1},{"n":26,"t":110,"v":16.72},{"n":26,"t":120,"v":16.34},{"n":26,"t":130,"v":15.95},{"n":26,"t":140,"v":15.57},{"n":26,"t":150,"v":15.19},{"n":26,"t":160,"v":14.8},{"n":26,"t":170,"v":14.44},{"n":26,"t":180,"v":14.07},{"n":26,"t":190,"v":13.71},{"n":26,"t":200,"v":13.34},{"n":26,"t":210,"v":12.98},{"n":26,"t":220,"v":12.62},{"n":26,"t":230,"v":12.25},{"n":26,"t":240,"v":11.88},{"n":26,"t":250,"v":11.5},{"n":26,"t":260,"v":11.13},{"n":26,"t":270,"v":10.75},{"n":26,"t":280,"v":10.38},{"n":26,"t":290,"v":10.0},{"n":26,"t":300,"v":9.62},{"n":26,"t":310,"v":9.22},{"n":26,"t":320,"v":8.82},{"n":26,"t":330,"v":8.43},{"n":26,"t":340,"v":8.04},{"n":26,"t":350,"v":7.67},{"n":26,"t":360,"v":7.3},{"n":26,"t":370,"v":6.93},{"n":26,"t":380,"v":6.57},{"n":26,"t":390,"v":6.28},{"n":26,"t":400,"v":6.0},{"n":26,"t":410,"v":5.72},{"n":26,"t":420,"v":5.43},{"n":26,"t":430,"v":5.15},{"n":26,"t":440,"v":4.86},{"n":26,"t":450,"v":4.57},{"n":26,"t":460,"v":4.38},{"n":26,"t":470,"v":4.22},{"n":26,"t":480,"v":4.1},{"n":26,"t":490,"v":4.0},
{"n":27,"t":0,"v":20},{"n":27,"t":10,"v":20},{"n":27,"t":20,"v":19.82},{"n":27,"t":30,"v":19.5},{"n":27,"t":40,"v":19.16},{"n":27,"t":50,"v":18.81},{"n":27,"t":60,"v":18.44},{"n":27,"t":70,"v":18.06},{"n":27,"t":80,"v":17.67},{"n":27,"t":90,"v":17.27},{"n":27,"t":100,"v":16.87},{"n":27,"t":110,"v":16.46},{"n":27,"t":120,"v":16.05},{"n":27,"t":130,"v":15.64},{"n":27,"t":140,"v":15.22},{"n":27,"t":150,"v":14.8},{"n":27,"t":160,"v":14.37},{"n":27,"t":170,"v":13.94},{"n":27,"t":180,"v":13.51},{"n":27,"t":190,"v":13.08},{"n":27,"t":200,"v":12.65},{"n":27,"t":210,"v":12.22},{"n":27,"t":220,"v":11.79},{"n":27,"t":230,"v":11.36},{"n":27,"t":240,"v":10.93},{"n":27,"t":250,"v":10.5},{"n":27,"t":260,"v":10.06},{"n":27,"t":270,"v":9.63},{"n":27,"t":280,"v":9.2},{"n":27,"t":290,"v":8.77},{"n":27,"t":300,"v":8.34},{"n":27,"t":310,"v":7.91},{"n":27,"t":320,"v":7.48},{"n":27,"t":330,"v":7.05},{"n":27,"t":340,"v":6.62},{"n":27,"t":350,"v":6.2},{"n":27,"t":360,"v":5.8},{"n":27,"t":370,"v":5.4},{"n":27,"t":380,"v":5.0},{"n":27,"t":390,"v":4.6},{"n":27,"t":400,"v":4.22},{"n":27,"t":410,"v":3.78},{"n":27,"t":420,"v":3.45},{"n":27,"t":430,"v":3.18},{"n":27,"t":440,"v":2.91},{"n":27,"t":450,"v":2.69},{"n":27,"t":460,"v":2.53},{"n":27,"t":470,"v":2.38},{"n":27,"t":480,"v":2.27},{"n":27,"t":490,"v":2.2},
{"n":28,"t":0,"v":20},{"n":28,"t":10,"v":20},{"n":28,"t":20,"v":19.9},{"n":28,"t":30,"v":19.8},{"n":28,"t":40,"v":19.62},{"n":28,"t":50,"v":19.35},{"n":28,"t":60,"v":19.06},{"n":28,"t":70,"v":18.78},{"n":28,"t":80,"v":18.5},{"n":28,"t":90,"v":18.22},{"n":28,"t":100,"v":17.94},{"n":28,"t":110,"v":17.67},{"n":28,"t":120,"v":17.41},{"n":28,"t":130,"v":17.15},{"n":28,"t":140,"v":16.9},{"n":28,"t":150,"v":16.66},{"n":28,"t":160,"v":16.42},{"n":28,"t":170,"v":16.16},{"n":28,"t":180,"v":15.9},{"n":28,"t":190,"v":15.65},{"n":28,"t":200,"v":15.39},{"n":28,"t":210,"v":15.14},{"n":28,"t":220,"v":14.88},{"n":28,"t":230,"v":14.63},{"n":28,"t":240,"v":14.37},{"n":28,"t":250,"v":14.12},{"n":28,"t":260,"v":13.86},{"n":28,"t":270,"v":13.6},{"n":28,"t":280,"v":13.34},{"n":28,"t":290,"v":13.08},{"n":28,"t":300,"v":12.82},{"n":28,"t":310,"v":12.56},{"n":28,"t":320,"v":12.3},{"n":28,"t":330,"v":12.05},{"n":28,"t":340,"v":11.8},{"n":28,"t":350,"v":11.53},{"n":28,"t":360,"v":11.25},{"n":28,"t":370,"v":10.98},{"n":28,"t":380,"v":10.75},{"n":28,"t":390,"v":10.57},{"n":28,"t":400,"v":10.4},{"n":28,"t":410,"v":10.15},{"n":28,"t":420,"v":9.9},{"n":28,"t":430,"v":9.7},{"n":28,"t":440,"v":9.46},{"n":28,"t":450,"v":9.2},{"n":28,"t":460,"v":8.99},{"n":28,"t":470,"v":8.88},{"n":28,"t":480,"v":8.8},{"n":28,"t":490,"v":8.72},
{"n":29,"t":0,"v":20},{"n":29,"t":10,"v":20},{"n":29,"t":20,"v":19.83},{"n":29,"t":30,"v":19.5},{"n":29,"t":40,"v":19.13},{"n":29,"t":50,"v":18.75},{"n":29,"t":60,"v":18.35},{"n":29,"t":70,"v":17.95},{"n":29,"t":80,"v":17.54},{"n":29,"t":90,"v":17.12},{"n":29,"t":100,"v":16.7},{"n":29,"t":110,"v":16.27},{"n":29,"t":120,"v":15.84},{"n":29,"t":130,"v":15.4},{"n":29,"t":140,"v":14.96},{"n":29,"t":150,"v":14.52},{"n":29,"t":160,"v":14.08},{"n":29,"t":170,"v":13.64},{"n":29,"t":180,"v":13.2},{"n":29,"t":190,"v":12.76},{"n":29,"t":200,"v":12.32},{"n":29,"t":210,"v":11.88},{"n":29,"t":220,"v":11.44},{"n":29,"t":230,"v":11.0},{"n":29,"t":240,"v":10.56},{"n":29,"t":250,"v":10.12},{"n":29,"t":260,"v":9.68},{"n":29,"t":270,"v":9.24},{"n":29,"t":280,"v":8.8},{"n":29,"t":290,"v":8.37},{"n":29,"t":300,"v":7.93},{"n":29,"t":310,"v":7.49},{"n":29,"t":320,"v":7.0},{"n":29,"t":330,"v":6.57},{"n":29,"t":340,"v":6.1},{"n":29,"t":350,"v":5.64},{"n":29,"t":360,"v":5.2},{"n":29,"t":370,"v":4.76},{"n":29,"t":380,"v":4.38},{"n":29,"t":390,"v":4.05},{"n":29,"t":400,"v":3.65},{"n":29,"t":410,"v":3.24},{"n":29,"t":420,"v":2.95},{"n":29,"t":430,"v":2.69},{"n":29,"t":440,"v":2.4},{"n":29,"t":450,"v":2.14},{"n":29,"t":460,"v":1.93},{"n":29,"t":470,"v":1.73},{"n":29,"t":480,"v":1.6},{"n":29,"t":490,"v":1.51},
{"n":30,"t":0,"v":20},{"n":30,"t":10,"v":20},{"n":30,"t":20,"v":19.83},{"n":30,"t":30,"v":19.52},{"n":30,"t":40,"v":19.1},{"n":30,"t":50,"v":18.62},{"n":30,"t":60,"v":18.1},{"n":30,"t":70,"v":17.57},{"n":30,"t":80,"v":17.03},{"n":30,"t":90,"v":16.49},{"n":30,"t":100,"v":15.95},{"n":30,"t":110,"v":15.41},{"n":30,"t":120,"v":14.87},{"n":30,"t":130,"v":14.33},{"n":30,"t":140,"v":13.8},{"n":30,"t":150,"v":13.25},{"n":30,"t":160,"v":12.7},{"n":30,"t":170,"v":12.22},{"n":30,"t":180,"v":11.74},{"n":30,"t":190,"v":11.26},{"n":30,"t":200,"v":10.78},{"n":30,"t":210,"v":10.3},{"n":30,"t":220,"v":9.82},{"n":30,"t":230,"v":9.32},{"n":30,"t":240,"v":8.82},{"n":30,"t":250,"v":8.3},{"n":30,"t":260,"v":7.77},{"n":30,"t":270,"v":7.24},{"n":30,"t":280,"v":6.71},{"n":30,"t":290,"v":6.18},{"n":30,"t":300,"v":5.65},{"n":30,"t":310,"v":5.12},{"n":30,"t":320,"v":4.59},{"n":30,"t":330,"v":4.06},{"n":30,"t":340,"v":3.53},{"n":30,"t":350,"v":3.0},{"n":30,"t":360,"v":2.47},{"n":30,"t":370,"v":1.9},{"n":30,"t":380,"v":1.33},{"n":30,"t":390,"v":0.95},{"n":30,"t":400,"v":0.55},{"n":30,"t":410,"v":0},{"n":30,"t":420,"v":0},{"n":30,"t":430,"v":0},{"n":30,"t":440,"v":0},{"n":30,"t":450,"v":0},{"n":30,"t":460,"v":0},{"n":30,"t":470,"v":0},{"n":30,"t":480,"v":0},{"n":30,"t":490,"v":0}
]},
"encoding":{
"x":{"field":"t","type":"quantitative","scale":{"domain":[-5,495],"nice":false,"zero":false},
"axis":{"title":"Tempo de Simulação (s)","values":[-5,5,15,25,35,45,55,65,75,85,95,105,115,125,135,145,155,165,175,185,195,205,215,225,235,245,255,265,275,285,295,305,315,325,335,345,355,365,375,385,395,405,415,425,435,445,455,465,475,485,495],
"labelExpr":"datum.value > 490 ? '' : format(datum.value + 5, 'd')","labelOffset":9.28,"labelFlush":false,"labelOverlap":false,"grid":false,"tickSize":5,"tickColor":"#868686","domainColor":"#868686","domainWidth":1,"labelFont":"Lato","labelFontSize":9.5,"labelColor":"#595959","labelPadding":4,"titleFont":"Lato","titleFontSize":13,"titleFontWeight":"bold","titleColor":"#1a1a1a","titlePadding":10}},
"y":{"field":"v","type":"quantitative","scale":{"domain":[0,20],"nice":false},
"axis":{"title":"Watts-segundo","values":[0,2,4,6,8,10,12,14,16,18,20],"grid":true,"gridColor":"#BFBFBF","gridWidth":1.2,"tickSize":4,"tickColor":"#868686","domainColor":"#868686","labelFont":"Lato","labelFontSize":10,"labelColor":"#595959","labelPadding":3,"titleFont":"Lato","titleFontSize":13,"titleFontWeight":"bold","titleColor":"#1a1a1a","titlePadding":6}},
"color":{"field":"n","type":"nominal","legend":null,
"scale":{"domain":[0,1,2,3,4,5,6,7,8,9,10,11,12,13,14,15,16,17,18,19,20,21,22,23,24,25,26,27,28,29,30],
"range":["#355E8E","#8F312E","#738E3B","#5E4A7B","#2F8CA5","#D76C22","#4372AB","#A73B38","#88A84D","#72589A","#3AA0B8","#EA8130","#4F81BD","#C0504D","#9BBB59","#8064A2","#4BACC6","#F79646","#6A92C9","#CC6E6B","#A9C66E","#9A83B7","#66BCD1","#F8A86A","#95B3DB","#D89491","#C0D69A","#B4A4CC","#93CCDD","#F9C29A","#BBCDE6"]}}
},
"layer":[
{"mark":{"type":"line","strokeWidth":2.2},
"encoding":{"color":{"field":"n","type":"nominal",
"legend":{"title":null,"orient":"none","legendX":948,"legendY":25.5,"padding":0,"symbolSize":100,"symbolLimit":50,"labelLimit":60,"labelOffset":5,"rowPadding":4.6,"labelFont":"Lato","labelFontSize":9.5,"labelColor":"#404040","labelExpr":"'Nó ' + datum.label",
"encode":{"symbols":{"update":{"shape":{"signal":"['M-2,0H2M0,-0.7L0.7,0L0,0.7L-0.7,0Z','M-2,0H2M-0.6,-0.6H0.6V0.6H-0.6Z','M-2,0H2M0,-0.7L0.7,0.5L-0.7,0.5Z','M-2,0H2M-0.55,-0.55L0.55,0.55M-0.55,0.55L0.55,-0.55','M-2,0H2M-0.55,-0.55L0.55,0.55M-0.55,0.55L0.55,-0.55M0,-0.7V0.7','M-2,0H2M0.6,0A0.6,0.6,0,1,1,-0.6,0A0.6,0.6,0,1,1,0.6,0Z','M-2,0H2M0,-0.7V0.7','M-2,0H2','M-2,0H2'][datum.value % 9]"},"fill":{"scale":"color","field":"value"},"stroke":{"scale":"color","field":"value"},"strokeWidth":{"value":2},"size":{"value":100},"opacity":{"value":1}}}}}}}},
{"transform":[{"filter":"datum.n % 9 == 0"}],"mark":{"type":"point","shape":"diamond","filled":true,"size":48,"opacity":1}},
{"transform":[{"filter":"datum.n % 9 == 1"}],"mark":{"type":"point","shape":"square","filled":true,"size":42,"opacity":1}},
{"transform":[{"filter":"datum.n % 9 == 2"}],"mark":{"type":"point","shape":"triangle-up","filled":true,"size":45,"opacity":1}},
{"transform":[{"filter":"datum.n % 9 == 3"}],"mark":{"type":"point","shape":"M-1,-1L1,1M-1,1L1,-1","filled":false,"size":40,"opacity":1,"strokeWidth":1.4}},
{"transform":[{"filter":"datum.n % 9 == 4"}],"mark":{"type":"point","shape":"M-1,-1L1,1M-1,1L1,-1M0,-1.3V1.3","filled":false,"size":40,"opacity":1,"strokeWidth":1.4}},
{"transform":[{"filter":"datum.n % 9 == 5"}],"mark":{"type":"point","shape":"circle","filled":true,"size":45,"opacity":1}},
{"transform":[{"filter":"datum.n % 9 == 6"}],"mark":{"type":"point","shape":"M-1.2,0H1.2M0,-1.2V1.2","filled":false,"size":40,"opacity":1,"strokeWidth":1.4}}
]
}
